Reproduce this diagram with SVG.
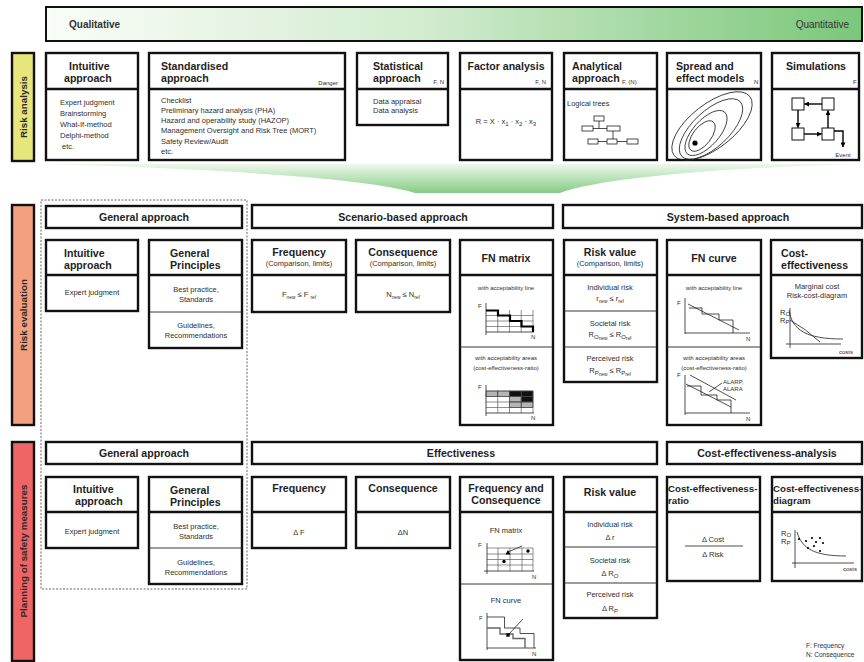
<svg xmlns="http://www.w3.org/2000/svg" width="864" height="662" viewBox="0 0 864 662">
<defs>
<linearGradient id="gTop" x1="0" y1="0" x2="1" y2="0"><stop offset="0" stop-color="#fafdf8"/><stop offset="0.45" stop-color="#d3ecd0"/><stop offset="1" stop-color="#7ac77a"/></linearGradient>
<linearGradient id="gFun" x1="0" y1="0" x2="0" y2="1"><stop offset="0" stop-color="#eef8ec"/><stop offset="1" stop-color="#86cc84"/></linearGradient>
<marker id="ah" viewBox="0 0 6 6" refX="5.5" refY="3" markerWidth="5" markerHeight="5" orient="auto" markerUnits="userSpaceOnUse"><path d="M0,0 L6,3 L0,6 z" fill="#000"/></marker>
<style>
text{font-family:"Liberation Sans",Arial,sans-serif}
.h{font-size:10.6px;font-weight:bold;fill:#1e1e1e}
.b{font-size:7.5px;fill:#2e2e2e}
.s{font-size:6px;fill:#2e2e2e}
.sb{font-size:4.8px}
.so{font-size:6px}
.m{text-anchor:middle}
.e{text-anchor:end}
.box{fill:#fff;stroke:#111;stroke-width:2.4}
.hd{stroke:#111;stroke-width:2.4}
.tn{stroke:#222;stroke-width:0.9}
.ax{stroke:#222;stroke-width:0.8;fill:none}
.gr{stroke:#444;stroke-width:0.6;fill:none}
.lab{font-size:9.8px;font-weight:bold;fill:#2a2a2a;text-anchor:middle}
.side{stroke:#111;stroke-width:2.4}
.ce{font-size:9.7px}
</style>
</defs>
<rect width="864" height="662" fill="#fff"/>

<g id="scale">
<rect x="46" y="7" width="816" height="34" fill="url(#gTop)" stroke="#111" stroke-width="2"/>
<text x="69" y="28" style="font-size:10px;font-weight:bold;fill:#333">Qualitative</text>
<text x="849" y="28" class="e" style="font-size:10px;fill:#333">Quantitative</text>
</g>

<g id="label-risk-analysis">
<rect x="12" y="53" width="22" height="108" fill="#e6e67a" class="side"/>
<text class="lab" transform="translate(26.5,107) rotate(-90)">Risk analysis</text>
</g>
<g id="label-risk-evaluation">
<rect x="12" y="205" width="22" height="220" fill="#f2a07e" class="side"/>
<text class="lab" transform="translate(26.5,315) rotate(-90)">Risk evaluation</text>
</g>
<g id="label-planning">
<rect x="12" y="442" width="22" height="219" fill="#ef6464" class="side"/>
<text class="lab" transform="translate(26.5,551) rotate(-90)">Planning of safety measures</text>
</g>

<!-- Risk analysis row -->
<g id="ra-intuitive">
<rect x="46" y="53" width="92" height="107" class="box"/>
<line x1="46" y1="89" x2="138" y2="89" class="hd"/>
<text x="69" y="70" class="h">Intuitive</text>
<text x="64" y="81.5" class="h">approach</text>
<text x="60" y="104.5" class="b">Expert judgment</text>
<text x="60" y="115.5" class="b">Brainstorming</text>
<text x="60" y="126.5" class="b">What-If-method</text>
<text x="60" y="138" class="b">Delphi-method</text>
<text x="62" y="148.5" class="b">etc.</text>
</g>
<g id="ra-standardised">
<rect x="149" y="53" width="196" height="107" class="box"/>
<line x1="149" y1="89" x2="345" y2="89" class="hd"/>
<text x="161" y="70" class="h">Standardised</text>
<text x="161" y="81.5" class="h">approach</text>
<text x="338" y="85" class="s e">Danger</text>
<text x="161" y="103" class="b">Checklist</text>
<text x="161" y="113" class="b">Preliminary hazard analysis (PHA)</text>
<text x="161" y="123" class="b">Hazard and operability study (HAZOP)</text>
<text x="161" y="133" class="b">Management Oversight and Risk Tree (MORT)</text>
<text x="161" y="143.5" class="b">Safety Review/Audit</text>
<text x="161" y="154" class="b">etc.</text>
</g>
<g id="ra-statistical">
<rect x="357" y="53" width="91" height="72" class="box"/>
<line x1="357" y1="89" x2="448" y2="89" class="hd"/>
<text x="373" y="70" class="h">Statistical</text>
<text x="373" y="81.5" class="h">approach</text>
<text x="444" y="84" class="s e">F, N</text>
<text x="373" y="104" class="b">Data appraisal</text>
<text x="373" y="113" class="b">Data analysis</text>
</g>
<g id="ra-factor">
<rect x="460" y="53" width="92" height="107" class="box"/>
<line x1="460" y1="89" x2="552" y2="89" class="hd"/>
<text x="506" y="70" class="h m">Factor analysis</text>
<text x="546" y="84" class="s e">F, N</text>
<text x="506" y="124" class="b m">R = X · x<tspan class="so" dy="2">1</tspan><tspan dy="-2"> · x</tspan><tspan class="so" dy="2">2</tspan><tspan dy="-2"> · x</tspan><tspan class="so" dy="2">3</tspan></text>
</g>
<g id="ra-analytical">
<rect x="564" y="53" width="93" height="107" class="box"/>
<line x1="564" y1="89" x2="657" y2="89" class="hd"/>
<text x="572" y="70" class="h">Analytical</text>
<text x="572" y="81.5" class="h">approach</text>
<text x="622" y="84" class="s">F, (N)</text>
<text x="567" y="106" class="b">Logical trees</text>
<g fill="#fff" stroke="#222" stroke-width="0.8">
<rect x="594" y="116" width="10" height="5"/>
<rect x="582" y="126" width="11" height="5"/>
<rect x="607" y="126" width="13" height="5"/>
<rect x="588" y="139" width="10" height="5"/>
<rect x="607" y="139" width="10" height="5"/>
<rect x="627" y="139" width="11" height="5"/>
<path d="M593,128.5 H607 M599,121 V128.5 M598,141.5 H607 M617,141.5 H627 M613,131 V139" fill="none"/>
</g>
</g>
<g id="ra-spread">
<rect x="667" y="53" width="94" height="107" class="box"/>
<line x1="667" y1="89" x2="761" y2="89" class="hd"/>
<text x="676" y="70" class="h">Spread and</text>
<text x="676" y="81.5" class="h">effect models</text>
<text x="754" y="84" class="s">N</text>
<g fill="none" stroke="#222" stroke-width="0.8">
<ellipse cx="712" cy="126" rx="48" ry="22" transform="rotate(-38 712 126)"/>
<ellipse cx="711" cy="129" rx="40" ry="18" transform="rotate(-43 711 129)"/>
<ellipse cx="706" cy="133" rx="28" ry="13" transform="rotate(-48 706 133)"/>
<ellipse cx="702" cy="136" rx="18" ry="9" transform="rotate(-52 702 136)"/>
</g>
<circle cx="695" cy="143" r="2.6" fill="#000"/>
</g>
<g id="ra-simulations">
<rect x="772" y="53" width="87" height="107" class="box"/>
<line x1="772" y1="89" x2="859" y2="89" class="hd"/>
<text x="816" y="70" class="h m">Simulations</text>
<text x="853" y="84" class="s">F</text>
<g fill="#fff" stroke="#111" stroke-width="1">
<rect x="792" y="98" width="12" height="12"/>
<rect x="822" y="98" width="12" height="12"/>
<rect x="792" y="128" width="12" height="12"/>
<rect x="822" y="128" width="12" height="12"/>
</g>
<g stroke="#000" stroke-width="1.4" fill="none" marker-end="url(#ah)">
<line x1="822" y1="104" x2="804.5" y2="104"/>
<line x1="798" y1="110" x2="798" y2="127.5"/>
<line x1="804" y1="134" x2="821.5" y2="134"/>
<line x1="828" y1="128" x2="828" y2="110.5"/>
<path d="M834,131 H843 V147"/>
</g>
<text x="843" y="156.5" class="s m">Event</text>
</g>

<g id="connectors">
<path d="M45,164 L858,164 C720,168 600,178 560,193 L415,193 C370,178 200,168 45,164 Z" fill="url(#gFun)"/>
</g>

<rect x="41" y="200" width="206" height="389" fill="none" stroke="#555" stroke-width="0.9" stroke-dasharray="2,1.5"/>

<!-- Risk evaluation -->
<g id="ev-general-approach">
<rect x="46" y="206" width="196" height="22" class="box"/>
<text x="144" y="221" class="h m">General approach</text>
</g>
<g id="ev-scenario">
<rect x="252" y="205" width="301" height="23" class="box"/>
<text x="403" y="220.5" class="h m">Scenario-based approach</text>
</g>
<g id="ev-system">
<rect x="563" y="205" width="299" height="23" class="box"/>
<text x="728" y="220.5" class="h m">System-based approach</text>
</g>
<g id="ev-intuitive">
<rect x="46" y="240" width="92" height="71" class="box"/>
<line x1="46" y1="275" x2="138" y2="275" class="hd"/>
<text x="64" y="257" class="h">Intuitive</text>
<text x="64" y="268.5" class="h">approach</text>
<text x="92" y="295" class="b m">Expert judgment</text>
</g>
<g id="ev-principles">
<rect x="149" y="240" width="93" height="108" class="box"/>
<line x1="149" y1="275" x2="242" y2="275" class="hd"/>
<line x1="149" y1="312" x2="242" y2="312" class="tn"/>
<text x="170" y="257" class="h">General</text>
<text x="170" y="268.5" class="h">Principles</text>
<text x="196" y="292" class="b m">Best  practice,</text>
<text x="196" y="301.5" class="b m">Standards</text>
<text x="196" y="328" class="b m">Guidelines,</text>
<text x="196" y="338" class="b m">Recommendations</text>
</g>
<g id="ev-frequency">
<rect x="252" y="240" width="94" height="72" class="box"/>
<line x1="252" y1="275" x2="346" y2="275" class="hd"/>
<text x="299" y="255.5" class="h m">Frequency</text>
<text x="299" y="266" class="b m">(Comparison, limits)</text>
<text x="299" y="297" class="b m">F<tspan class="sb" dy="1.5">new</tspan><tspan dy="-1.5">  ≤ F </tspan><tspan class="sb" dy="1.5">ref</tspan></text>
</g>
<g id="ev-consequence">
<rect x="356" y="240" width="94" height="72" class="box"/>
<line x1="356" y1="275" x2="450" y2="275" class="hd"/>
<text x="403" y="255.5" class="h m">Consequence</text>
<text x="403" y="266" class="b m">(Comparison, limits)</text>
<text x="403" y="297" class="b m">N<tspan class="sb" dy="1.5">new</tspan><tspan dy="-1.5"> ≤ N</tspan><tspan class="sb" dy="1.5">ref</tspan></text>
</g>
<g id="ev-fn-matrix">
<rect x="460" y="240" width="93" height="185" class="box"/>
<line x1="460" y1="275" x2="553" y2="275" class="hd"/>
<line x1="460" y1="347" x2="553" y2="347" class="tn"/>
<text x="506" y="262" class="h m">FN matrix</text>
<text x="506" y="290" class="s m">with acceptability line</text>
<text x="478" y="308" class="s">F</text>
<path d="M497.75,310 V332 M509.5,310 V332 M521.25,310 V332 M533,310 V332 M486,315.5 H533 M486,321 H533 M486,326.5 H533" class="gr"/>
<path d="M486,303 V335 M486,332 H534" class="ax"/>
<path d="M486,310.5 H498 V315.5 H510 V321 H521.5 V326.5 H533 V332" fill="none" stroke="#000" stroke-width="2.2"/>
<text x="531" y="339" class="s">N</text>
<text x="506" y="360" class="s m">with acceptability areas</text>
<text x="506" y="370" class="s m">(cost-effectiveness-ratio)</text>
<text x="478" y="389" class="s">F</text>
<g stroke="#444" stroke-width="0.6">
<rect x="486" y="391" width="11.75" height="5.5" fill="#b4b4b4"/>
<rect x="497.75" y="391" width="11.75" height="5.5" fill="#b4b4b4"/>
<rect x="509.5" y="391" width="11.75" height="5.5" fill="#111"/>
<rect x="521.25" y="391" width="11.75" height="5.5" fill="#111"/>
<rect x="509.5" y="396.5" width="11.75" height="5.5" fill="#b4b4b4"/>
<rect x="521.25" y="396.5" width="11.75" height="5.5" fill="#111"/>
<rect x="509.5" y="402" width="11.75" height="5.5" fill="#b4b4b4"/>
<rect x="521.25" y="402" width="11.75" height="5.5" fill="#b4b4b4"/>
</g>
<path d="M497.75,391 V413 M509.5,391 V413 M521.25,391 V413 M533,391 V413 M486,391 H533 M486,396.5 H533 M486,402 H533 M486,407.5 H533" class="gr"/>
<path d="M486,385 V416 M486,413 H534" class="ax"/>
<text x="531" y="420" class="s">N</text>
</g>
<g id="ev-risk-value">
<rect x="564" y="240" width="93" height="142" class="box"/>
<line x1="564" y1="275" x2="657" y2="275" class="hd"/>
<line x1="564" y1="311" x2="657" y2="311" class="tn"/>
<line x1="564" y1="347" x2="657" y2="347" class="tn"/>
<text x="610" y="255.5" class="h m">Risk value</text>
<text x="610" y="266" class="b m">(Comparison, limits)</text>
<text x="610" y="289.5" class="b m">Individual risk</text>
<text x="610" y="301" class="b m">r<tspan class="sb" dy="1.5">new</tspan><tspan dy="-1.5"> ≤ r</tspan><tspan class="sb" dy="1.5">ref</tspan></text>
<text x="610" y="325.5" class="b m">Societal risk</text>
<text x="610" y="337" class="b m">R<tspan class="so" dy="1.5">O</tspan><tspan class="sb" dy="1.5">new</tspan><tspan dy="-3"> ≤ R</tspan><tspan class="so" dy="1.5">O</tspan><tspan class="sb" dy="1.5">ref</tspan></text>
<text x="610" y="361" class="b m">Perceived risk</text>
<text x="610" y="373" class="b m">R<tspan class="so" dy="1.5">P</tspan><tspan class="sb" dy="1.5">new</tspan><tspan dy="-3"> ≤ R</tspan><tspan class="so" dy="1.5">P</tspan><tspan class="sb" dy="1.5">ref</tspan></text>
</g>
<g id="ev-fn-curve">
<rect x="667" y="240" width="94" height="185" class="box"/>
<line x1="667" y1="275" x2="761" y2="275" class="hd"/>
<line x1="667" y1="347" x2="761" y2="347" class="tn"/>
<text x="714" y="262" class="h m">FN curve</text>
<text x="714" y="290" class="s m">with acceptability line</text>
<text x="677" y="305" class="s">F</text>
<path d="M685,298 V334 M685,333 H750" class="ax"/>
<path d="M689,308 H702 V314 H719 V320 H733 V333" class="ax" stroke-width="1"/>
<path d="M688,304 L739,330" class="ax"/>
<text x="746" y="341" class="s">N</text>
<text x="714" y="360" class="s m">with acceptability areas</text>
<text x="714" y="370" class="s m">(cost-effectiveness-ratio)</text>
<text x="677" y="377" class="s">F</text>
<path d="M685,375 V415 M685,413 H750" class="ax"/>
<path d="M690,375 L736,400" class="ax"/>
<path d="M686,384 L731,407" class="ax"/>
<path d="M687,386 H701 V395 H717 V400 H731 V413" class="ax" stroke-width="1"/>
<path d="M722,383 L709,392" class="ax"/>
<text x="723" y="384" class="s">ALARP,</text>
<text x="723" y="390.5" class="s">ALARA</text>
<text x="746" y="421" class="s">N</text>
</g>
<g id="ev-cost-effectiveness">
<rect x="771" y="240" width="91" height="118" class="box"/>
<line x1="771" y1="275" x2="862" y2="275" class="hd"/>
<text x="781" y="257" class="h">Cost-</text>
<text x="781" y="268.5" class="h">effectiveness</text>
<text x="817" y="289" class="b m">Marginal cost</text>
<text x="817" y="297.5" class="b m">Risk-cost-diagram</text>
<text x="780" y="315" class="b">R<tspan class="so" dy="1">O</tspan></text>
<text x="780" y="322.5" class="b">R<tspan class="so" dy="1">P</tspan></text>
<path d="M790,308 V348 M786,344 H841" class="ax"/>
<path d="M789,310 C792,330 806,339 843,339" class="ax"/>
<path d="M790,320 Q806,329 820,342" class="ax"/>
<text x="853" y="354" class="s e">costs</text>
</g>

<!-- Planning of safety measures -->
<g id="pl-general-approach">
<rect x="46" y="442" width="196" height="22" class="box"/>
<text x="144" y="456.5" class="h m">General approach</text>
</g>
<g id="pl-effectiveness">
<rect x="252" y="442" width="405" height="22" class="box"/>
<text x="461" y="456.5" class="h m">Effectiveness</text>
</g>
<g id="pl-cost-effectiveness-analysis">
<rect x="667" y="442" width="195" height="22" class="box"/>
<text x="767" y="456.5" class="h m">Cost-effectiveness-analysis</text>
</g>
<g id="pl-intuitive">
<rect x="46" y="477" width="92" height="71" class="box"/>
<line x1="46" y1="512" x2="138" y2="512" class="hd"/>
<text x="73" y="493" class="h">Intuitive</text>
<text x="75" y="504.5" class="h">approach</text>
<text x="92" y="534" class="b m">Expert judgment</text>
</g>
<g id="pl-principles">
<rect x="149" y="477" width="93" height="107" class="box"/>
<line x1="149" y1="512" x2="242" y2="512" class="hd"/>
<line x1="149" y1="548" x2="242" y2="548" class="tn"/>
<text x="170" y="494" class="h">General</text>
<text x="170" y="505.5" class="h">Principles</text>
<text x="196" y="529" class="b m">Best  practice,</text>
<text x="196" y="538.5" class="b m">Standards</text>
<text x="196" y="565" class="b m">Guidelines,</text>
<text x="196" y="574.5" class="b m">Recommendations</text>
</g>
<g id="pl-frequency">
<rect x="252" y="477" width="94" height="71" class="box"/>
<line x1="252" y1="512" x2="346" y2="512" class="hd"/>
<text x="299" y="492" class="h m">Frequency</text>
<text x="299" y="534.5" class="b m">Δ F</text>
</g>
<g id="pl-consequence">
<rect x="356" y="477" width="94" height="71" class="box"/>
<line x1="356" y1="512" x2="450" y2="512" class="hd"/>
<text x="403" y="492" class="h m">Consequence</text>
<text x="403" y="534.5" class="b m">ΔN</text>
</g>
<g id="pl-frequency-consequence">
<rect x="460" y="477" width="93" height="183" class="box"/>
<line x1="460" y1="512" x2="553" y2="512" class="hd"/>
<line x1="460" y1="584" x2="553" y2="584" class="tn"/>
<text x="506" y="492" class="h m">Frequency and</text>
<text x="506" y="504" class="h m">Consequence</text>
<text x="506" y="533" class="b m">FN matrix</text>
<text x="478" y="547" class="s">F</text>
<path d="M498,548 V571 M510,548 V571 M522,548 V571 M533,548 V571 M487,548 H533 M487,554 H533 M487,559.5 H533 M487,565 H533" class="gr" stroke="#222" stroke-width="0.7"/>
<path d="M487,543 V574 M484,571 H534" class="ax"/>
<path d="M508,552 L522,546" class="ax"/>
<path d="M505.5,554.5 L508,550 L510.5,554.5 z" fill="#000"/>
<circle cx="504" cy="561.5" r="1.7" fill="#000"/>
<circle cx="528" cy="551" r="1.7" fill="#000"/>
<text x="532" y="579" class="s">N</text>
<text x="506" y="603" class="b m">FN curve</text>
<text x="479" y="620" class="s">F</text>
<path d="M487,613 V650 M487,648 H536" class="ax"/>
<path d="M487,617 H504.5 V628 H520 V633.5 H534 V648" class="ax" stroke-width="0.9"/>
<path d="M487,628 H500 V634 H513 V638.5 H525 V648" fill="none" stroke="#666" stroke-width="1.4"/>
<path d="M508,635 L523,619" class="ax"/>
<rect x="506.3" y="633.3" width="3.4" height="3.4" fill="#000"/>
<text x="532" y="656" class="s">N</text>
</g>
<g id="pl-risk-value">
<rect x="564" y="477" width="93" height="141" class="box"/>
<line x1="564" y1="512" x2="657" y2="512" class="hd"/>
<line x1="564" y1="547" x2="657" y2="547" class="tn"/>
<line x1="564" y1="583" x2="657" y2="583" class="tn"/>
<text x="610" y="495.5" class="h m">Risk value</text>
<text x="610" y="526.5" class="b m">Individual risk</text>
<text x="610" y="540" class="b m">Δ r</text>
<text x="610" y="562.5" class="b m">Societal risk</text>
<text x="610" y="576" class="b m">Δ R<tspan class="so" dy="1.5">O</tspan></text>
<text x="610" y="597" class="b m">Perceived risk</text>
<text x="610" y="611" class="b m">Δ R<tspan class="so" dy="1.5">P</tspan></text>
</g>
<g id="pl-ce-ratio">
<rect x="667" y="477" width="93" height="104" class="box"/>
<line x1="667" y1="512" x2="760" y2="512" class="hd"/>
<text x="668" y="492" class="h ce">Cost-effectiveness-</text>
<text x="668" y="504" class="h ce">ratio</text>
<text x="713" y="542" class="b m">Δ Cost</text>
<line x1="685" y1="546" x2="743" y2="546" stroke="#222" stroke-width="0.8"/>
<text x="713" y="556.5" class="b m">Δ  Risk</text>
</g>
<g id="pl-ce-diagram">
<rect x="772" y="477" width="90" height="104" class="box"/>
<line x1="772" y1="512" x2="862" y2="512" class="hd"/>
<text x="773" y="492" class="h ce">Cost-effectiveness-</text>
<text x="773" y="504" class="h ce">diagram</text>
<text x="781" y="536" class="b">R<tspan class="so" dy="1">O</tspan></text>
<text x="781" y="543.5" class="b">R<tspan class="so" dy="1">P</tspan></text>
<path d="M795,530 V568 M792,563 H854" class="ax"/>
<path d="M797,532 C802,549 815,556 846,556" class="ax"/>
<g fill="#000">
<circle cx="799" cy="539" r="1.1"/><circle cx="806" cy="541" r="1.1"/><circle cx="812" cy="538" r="1.1"/>
<circle cx="816" cy="542" r="1.1"/><circle cx="820" cy="538" r="1.1"/><circle cx="814" cy="546" r="1.1"/>
<circle cx="823" cy="543" r="1.1"/><circle cx="820" cy="551" r="1.1"/><circle cx="808" cy="548" r="1.1"/>
</g>
<text x="857" y="571" class="s e">costs</text>
</g>

<g id="legend">
<text x="806" y="648" class="s" style="font-size:6.5px">F: Frequency</text>
<text x="806" y="657" class="s" style="font-size:6.5px">N: Consequence</text>
</g>
</svg>
